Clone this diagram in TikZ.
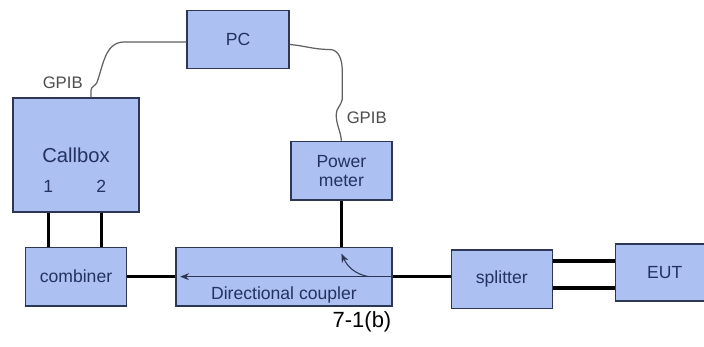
\documentclass[tikz,border=0pt]{standalone}
\usepackage{fontspec}
\setmainfont{Liberation Sans}
\usetikzlibrary{positioning,arrows.meta}

\definecolor{boxfill}{RGB}{172,192,242}
\definecolor{boxline}{RGB}{45,55,85}
\definecolor{boxtext}{RGB}{35,50,95}

\begin{document}
\begin{tikzpicture}[
          box/.style={rectangle, draw=boxline, line width=0.8pt,
              fill=boxfill, minimum width=2.02cm, minimum height=1.17cm,
              font=\fontsize{10}{11}\selectfont, text=boxtext, align=center, inner sep=0pt},
          rf/.style={line width=1.9pt, black},
          gpib/.style={line width=0.7pt, gray!75!black},
          lbl/.style={font=\fontsize{9.5}{10}\selectfont, text=black!70, inner sep=0pt},
          tap/.style={-{Stealth[length=5pt,width=4pt]}, line width=0.6pt, boxline}
        ]
        \useasboundingbox (0,0) rectangle (14.08,6.94);
        \node[box, minimum width=2.52cm, minimum height=2.28cm,
              font=\fontsize{11.5}{12}\selectfont] (cb) at (1.52,3.84) {Callbox};
        \node[box, below=0.68cm of cb]    (comb) {combiner};
        \node[box, right=0.96cm of comb, minimum width=4.32cm] (coup) {};
        \node[box, above=0.92cm of coup.north east, anchor=south east] (pm) {Power\\meter};
        \node[box, minimum width=2.04cm] (pc) at (4.76,6.15) {PC};
        \node[box, right=1.16cm of coup, yshift=-0.05cm] (spl) {splitter};
        \node[box, right=1.24cm of spl, yshift=0.13cm, minimum width=1.96cm,
              minimum height=1.14cm] (eut) {EUT};
        \node[text=boxtext, font=\fontsize{10}{11}\selectfont, below=0.07cm of coup.center] (dc) {Directional coupler};
        % callbox ports
        \coordinate (c1) at ([xshift=0.72cm]cb.south west);
        \coordinate (c2) at ([xshift=1.78cm]cb.south west);
        \node[text=boxtext, font=\fontsize{10}{11}\selectfont, above=0.28cm of c1] (p1) {1};
        \node[text=boxtext, font=\fontsize{10}{11}\selectfont, above=0.28cm of c2] (p2) {2};
        \draw[rf] (c1) -- (c1 |- comb.north);
        \draw[rf] (c2) -- (c2 |- comb.north);
        % rf chain
        \draw[rf] (comb.east) -- (coup.west);
        \draw[rf] (pm.south) -- (pm.south |- coup.north);
        \draw[rf] (coup.east) -- (coup.east -| spl.west);
        \draw[rf] ([yshift=0.36cm]spl.east) -- ([yshift=0.36cm]spl.east -| eut.west);
        \draw[rf] ([yshift=-0.18cm]spl.east) -- ([yshift=-0.18cm]spl.east -| eut.west);
        % coupler inside
        \coordinate (tp) at ([yshift=-0.14cm]pm.south |- coup.north);
        \draw[tap] (coup.east) -- ([xshift=0.1cm]coup.west);
        \draw[tap] ([xshift=-0.48cm]coup.east) to[out=170, in=-65] (tp);
        % GPIB cables
        \coordinate (g1) at ([xshift=0.3cm]cb.north);
        \coordinate (pcL) at ([yshift=-0.05cm]pc.west);
        \coordinate (pcR) at ([yshift=-0.1cm]pc.east);
        \draw[gpib] (g1) -- ++(0,0.14) to[out=90,in=-110] ++(0.12,0.16)
              to[out=70,in=180] ([xshift=-1.24cm]pcL) -- (pcL);
        \draw[gpib] (pcR) to[out=-5,in=180] ++(0.8,-0.1) to[out=0,in=90] ++(0.25,-0.4)
              -- ++(0,-0.6) to[out=-100,in=90] ++(-0.12,-0.3) to[out=-90,in=95] (pm.north);
        \node[lbl, above left=0.16cm and 0.16cm of g1] (l1) {GPIB};
        \node[lbl, above right=0.34cm and 0.1cm of pm.north] (l2) {GPIB};
        % caption
        \node[font=\fontsize{12.5}{13}\selectfont] (cap) at (7.24,0.5) {7-1(b)};
      \end{tikzpicture}
\end{document}
